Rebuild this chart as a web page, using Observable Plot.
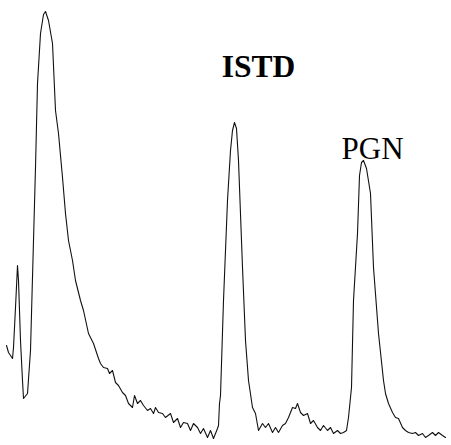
<!DOCTYPE html>
<html>
<head>
<meta charset="utf-8">
<script src="https://cdn.jsdelivr.net/npm/d3@7"></script>
<script src="https://cdn.jsdelivr.net/npm/@observablehq/plot@0.6"></script>
<style>
  html, body { margin: 0; padding: 0; background: #fff; }
</style>
</head>
<body>
<div id="chart"></div>
<script>
// retention time (arbitrary units) and detector depth (arbitrary units, larger = lower on trace)
const time = [
  6, 8, 12, 13, 15, 17, 18, 20, 22, 23, 27, 30, 33, 35, 37, 40, 43, 45, 48, 52, 55, 58, 62, 65, 68, 72, 75, 80, 83, 88, 93, 98,
  100, 103, 107, 109, 112, 115, 118, 122, 125, 128, 132, 134, 137, 140, 143, 147, 150, 153, 155, 158, 162, 165, 170, 173, 177,
  180, 183, 187, 190, 193, 197, 200, 203, 207, 210, 213, 217, 218, 219, 220, 223, 227, 230, 232, 234, 236, 238, 242, 245, 248,
  252, 255, 258, 262, 265, 268, 272, 275, 278, 282, 285, 288, 292, 295, 297, 300, 303, 307, 310, 313, 317, 320, 323, 327, 330,
  333, 337, 340, 343, 346, 348, 351, 353, 357, 359, 361, 363, 366, 370, 373, 378, 383, 385, 388, 392, 395, 398, 402, 405, 408,
  412, 415, 418, 422, 425, 428, 432, 435, 438, 442, 445
];
const depth = [
  345, 352, 358, 347, 307, 265, 280, 340, 380, 398, 393, 350, 240, 167, 83, 33, 14, 11, 20, 43, 110, 133, 177, 213, 240, 260, 280, 300, 310, 333, 343, 358,
  363, 367, 368, 373, 370, 382, 385, 392, 395, 403, 407, 395, 403, 400, 405, 410, 408, 413, 407, 412, 413, 417, 413, 422, 418,
  427, 422, 423, 430, 423, 427, 433, 428, 437, 430, 438, 428, 425, 403, 395, 300, 200, 150, 130, 122, 128, 160, 267, 340, 380,
  407, 413, 430, 423, 427, 423, 432, 427, 432, 425, 423, 417, 407, 408, 403, 412, 415, 413, 423, 420, 427, 430, 425, 430, 427,
  433, 430, 433, 432, 430, 417, 387, 300, 233, 175, 162, 160, 168, 193, 267, 333, 380, 393, 403, 412, 417, 418, 427, 430, 432,
  433, 432, 435, 433, 437, 435, 432, 435, 432, 435, 437
];
const labels = ["ISTD", "PGN"];
const labelTime = [258, 372];
const labelDepth = [76, 158];
const labelWeight = ["bold", "normal"];

const trace = time.map((t, i) => ({t, d: depth[i]}));
const notes = labels.map((l, i) => ({l, t: labelTime[i], d: labelDepth[i], w: labelWeight[i]}));

const chart = Plot.plot({
  width: 451,
  height: 445,
  margin: 0,
  x: {domain: [0, 451], axis: null},
  y: {domain: [445, 0], axis: null},
  style: {background: "#fff"},
  marks: [
    Plot.line(trace, {x: "t", y: "d", stroke: "#111", strokeWidth: 1.1, curve: "linear"}),
    Plot.text(notes.filter(n => n.w === "bold"), {x: "t", y: "d", text: "l", fontSize: 31.5, fontWeight: "bold",
      fontFamily: "'Liberation Serif', 'Times New Roman', serif", fill: "#000", lineAnchor: "bottom"}),
    Plot.text(notes.filter(n => n.w !== "bold"), {x: "t", y: "d", text: "l", fontSize: 31, fontWeight: "normal",
      fontFamily: "'Liberation Serif', 'Times New Roman', serif", fill: "#000", lineAnchor: "bottom"})
  ]
});
document.getElementById("chart").appendChild(chart);
</script>
</body>
</html>
